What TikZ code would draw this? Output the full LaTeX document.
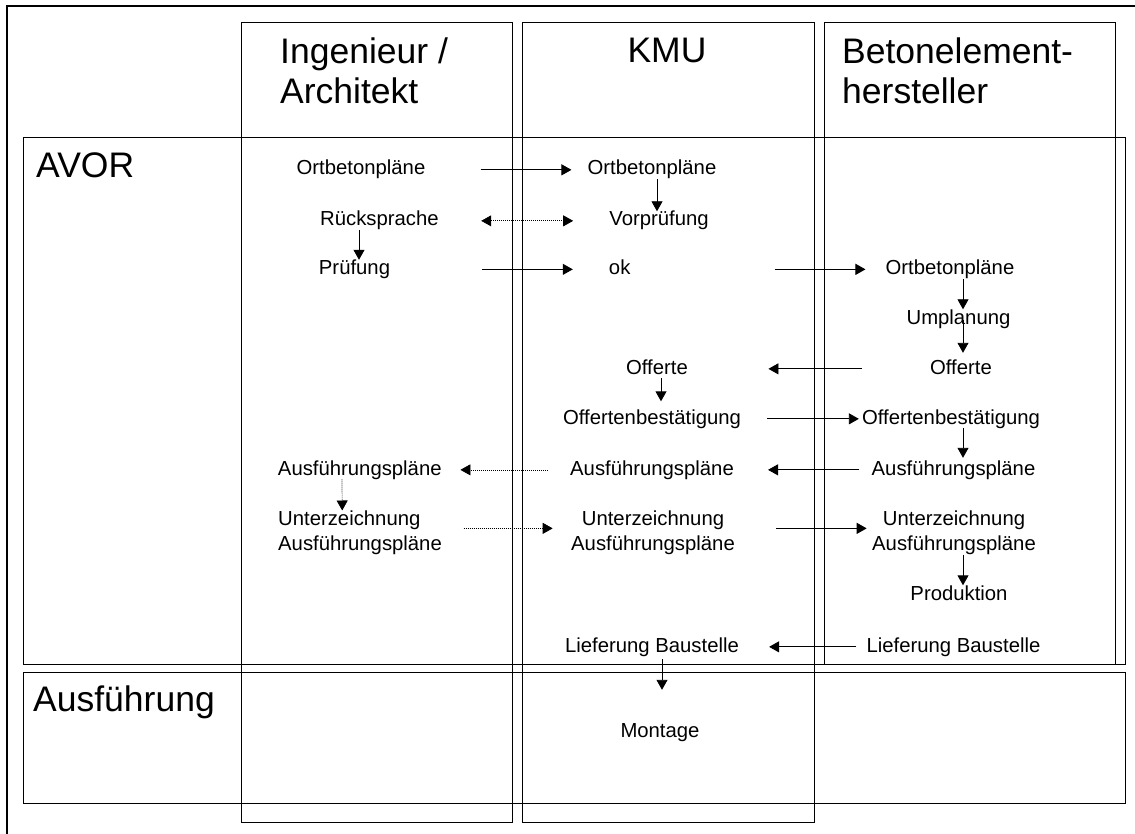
\documentclass[tikz,border=0pt]{standalone}
\usepackage{fontspec}
\setmainfont{Liberation Sans}
\usetikzlibrary{arrows.meta}
\begin{document}
\begin{tikzpicture}[x=1pt,y=-1pt,
  box/.style={line width=1pt},
  lbl/.style={font=\fontsize{20.3}{25}\selectfont, inner sep=0pt, text height=14.5pt, text depth=4.2pt, anchor=base},
  mlbl/.style={font=\fontsize{20.3}{25}\selectfont, inner sep=0pt},
  head/.style={font=\fontsize{35.5}{40}\selectfont, inner sep=0pt},
  arr/.style={line width=0.9pt, -{Triangle[length=10pt,width=11pt]}},
  darr/.style={line width=0.7pt, dash pattern=on 1pt off 1pt, -{Triangle[length=10pt,width=11pt]}},
]
\useasboundingbox (0,0) rectangle (1135,834);
% outer frame (cut off at right and bottom)
\draw[line width=2.5pt] (7,845) -- (7,6) -- (1145,6);
% lanes
\draw[box] (241,23) rectangle (512,822);
\draw[box] (522,23) rectangle (814,822);
\draw[box] (824,23) rectangle (1115,664);
\draw[box] (23,138) rectangle (1125,664);
\draw[box] (23,672) rectangle (1125,803);
% headers
\node[head, anchor=north west, align=left] (hi) at (280,37.6) {Ingenieur /\\Architekt};
\node[head, anchor=base] (hk) at (667,63) {KMU};
\node[head, anchor=north west, align=left] (hb) at (842,37.6) {Betonelement-\\hersteller};
\node[head, anchor=base west] (avor) at (36,178) {AVOR};
\node[head, anchor=base west] (ausf) at (33,711) {Ausführung};
% Ingenieur / Architekt
\node[lbl] (i1) at (361,175) {Ortbetonpläne};
\node[lbl] (i2) at (379.4,226) {Rücksprache};
\node[lbl] (i3) at (354.5,274.5) {Prüfung};
\node[lbl] (i4) at (359.8,475) {Ausführungspläne};
\node[mlbl, anchor=north west, align=left] (i5) at (278,510.5) {Unterzeichnung\\Ausführungspläne};
% KMU
\node[lbl] (k1) at (652,175) {Ortbetonpläne};
\node[lbl] (k2) at (659,226) {Vorprüfung};
\node[lbl] (k3) at (619.7,274.5) {ok};
\node[lbl] (k4) at (657,374) {Offerte};
\node[lbl] (k5) at (652,424) {Offertenbestätigung};
\node[lbl] (k6) at (652,475) {Ausführungspläne};
\node[mlbl, anchor=north, align=center] (k7) at (653,510.5) {Unterzeichnung\\Ausführungspläne};
\node[lbl] (k8) at (652,652) {Lieferung Baustelle};
\node[lbl] (k9) at (660,737) {Montage};
% Betonelementhersteller
\node[lbl] (b1) at (950,274.5) {Ortbetonpläne};
\node[lbl] (b2) at (958.5,324) {Umplanung};
\node[lbl] (b3) at (961,374) {Offerte};
\node[lbl] (b4) at (951,424) {Offertenbestätigung};
\node[lbl] (b5) at (953.5,475) {Ausführungspläne};
\node[mlbl, anchor=north, align=center] (b6) at (954,510.5) {Unterzeichnung\\Ausführungspläne};
\node[lbl] (b7) at (959,600) {Produktion};
\node[lbl] (b8) at (953.5,652) {Lieferung Baustelle};
% connectors
\draw[arr, shorten <=55pt, shorten >=16pt] (i1.east) -- (k1.west);
\draw[arr] ([xshift=5pt]k1.south) -- ([xshift=-2pt]k2.north);
\draw[darr, {Triangle[length=10pt,width=11pt]}-{Triangle[length=10pt,width=11pt]}, shorten <=42.4pt, shorten >=36pt] (i2.east) -- (k2.west);
\draw[arr] ([xshift=-20.4pt]i2.south) -- ([xshift=4.5pt]i3.north);
\draw[arr, shorten <=92pt, shorten >=36pt] (i3.east) -- (k3.west);
\draw[arr, shorten <=144pt, shorten >=20pt] (k3.east) -- (b1.west);
\draw[arr] ([xshift=13pt]b1.south) -- ([xshift=4.5pt]b2.north);
\draw[arr, shorten <=-8pt, shorten >=6.5pt] ([xshift=4.5pt]b2.south) -- ([xshift=2pt]b3.north);
\draw[arr, shorten <=68pt, shorten >=80.4pt] (b3.west) -- (k4.east);
\draw[arr, shorten >=8pt] ([xshift=4pt]k4.south) -- ([xshift=9pt]k5.north);
\draw[arr, shorten <=26pt, shorten >=3pt] (k5.east) -- (b4.west);
\draw[arr, shorten >=2.5pt] ([xshift=12pt]b4.south) -- ([xshift=9.5pt]b5.north);
\draw[arr, shorten <=12pt, shorten >=34pt] (b5.west) -- (k6.east);
\draw[darr, shorten <=22pt, shorten >=18.6pt] (k6.west) -- (i4.east);
\draw[darr] ([xshift=-17.8pt]i4.south) -- ([xshift=-17.8pt]i5.north);
\draw[darr, shorten <=21.6pt, shorten >=18.3pt] ([yshift=4.3pt]i5.east) -- ([yshift=4.3pt]k7.west);
\draw[arr, shorten <=41.2pt, shorten >=5.3pt] ([yshift=4.3pt]k7.east) -- ([yshift=4.3pt]b6.west);
\draw[arr] ([xshift=9pt]b6.south) -- ([xshift=4pt]b7.north);
\draw[arr, shorten <=10pt, shorten >=30pt] (b8.west) -- (k8.east);
\draw[arr, shorten <=2.8pt, shorten >=32.5pt] ([xshift=10pt]k8.south) -- ([xshift=2pt]k9.north);
\end{tikzpicture}
\end{document}
